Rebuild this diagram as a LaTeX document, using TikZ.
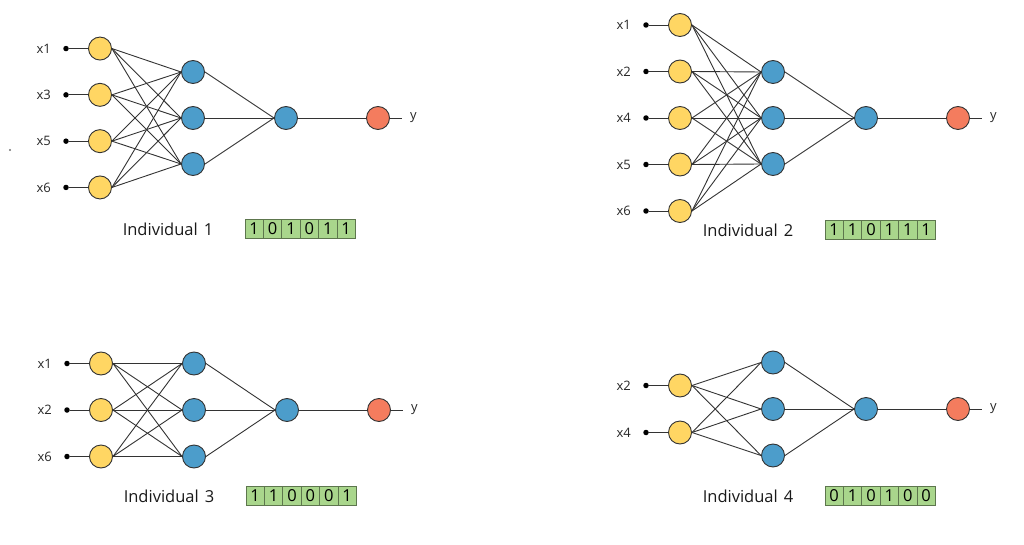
\documentclass[tikz,border=0pt]{standalone}
\usepackage{fontspec}
\setmainfont{Open Sans}
\usetikzlibrary{positioning}

\definecolor{inyellow}{HTML}{FFD663}
\definecolor{hidblue}{HTML}{4C9DCB}
\definecolor{outred}{HTML}{F47C5E}
\definecolor{bitgreen}{HTML}{A9D68C}
\definecolor{wiregray}{HTML}{333333}

\tikzset{
	neuron/.style={circle, draw=wiregray, line width=0.9pt, minimum size=23pt, inner sep=0pt},
	inneuron/.style={neuron, fill=inyellow},
	hidneuron/.style={neuron, fill=hidblue},
	outneuron/.style={neuron, fill=outred},
	pindot/.style={circle, fill=black, minimum size=5.5pt, inner sep=0pt},
	wire/.style={draw=wiregray, line width=0.9pt},
	xlab/.style={font=\fontsize{13}{15}\selectfont, text=black!85, inner sep=0pt},
	netname/.style={font=\fontsize{16.5}{19}\selectfont, text=black!90, inner sep=0pt},
	bit/.style={draw=bitgreen!55!black, line width=0.7pt, fill=bitgreen, minimum width=18.4pt, minimum height=19pt, inner sep=0pt, font=\fontsize{16.5}{18}\selectfont}
}

\begin{document}
\begin{tikzpicture}[x=1pt, y=-1pt]
			\useasboundingbox (0,0) rectangle (1024,545);
			\fill[black!55] (10,150) circle (1.1);
			% Individual 1
			\begin{scope}[shift={(0,118)}]
				\foreach \lab [count=\i] in {x1,x3,x5,x6} {
					\node[inneuron] (ain\i) at (100,{(\i-2.5)*46.3}) {};
					\node[pindot] (adot\i) at (66,{(\i-2.5)*46.3}) {};
					\node[xlab, anchor=east] (alab\i) at (51,{(\i-2.5)*46.3}) {\lab};
					\draw[wire] (adot\i) -- (ain\i);
				}
				\foreach \j in {1,2,3}
					\node[hidneuron] (ahid\j) at (193,{(\j-2)*46}) {};
				\node[hidneuron] (aout) at (286,0) {};
				\node[outneuron] (ay) at (378,0) {};
				\coordinate (aend) at (402,0);
				\node[xlab, anchor=west] (aylab) at (410,0) {y};
				\foreach \i in {1,...,4}
					\foreach \j in {1,2,3}
						\draw[wire] (ain\i.east) -- (ahid\j.west);
				\foreach \j in {1,2,3}
					\draw[wire] (ahid\j.east) -- (aout.west);
				\draw[wire] (aout) -- (ay) -- (aend);
				\node[netname] (aname) at (168,111) {Individual\hspace{6pt}1};
				\foreach \b [count=\k] in {1,0,1,0,1,1}
					\node[bit] (abit\k) at ({245+18.4*(\k-0.5)},111) {\b};
			\end{scope}
			% Individual 2
			\begin{scope}[shift={(580,118)}]
				\foreach \lab [count=\i] in {x1,x2,x4,x5,x6} {
					\node[inneuron] (bin\i) at (100,{(\i-3)*46.5}) {};
					\node[pindot] (bdot\i) at (66,{(\i-3)*46.5}) {};
					\node[xlab, anchor=east] (blab\i) at (51,{(\i-3)*46.5}) {\lab};
					\draw[wire] (bdot\i) -- (bin\i);
				}
				\foreach \j in {1,2,3}
					\node[hidneuron] (bhid\j) at (193,{(\j-2)*46}) {};
				\node[hidneuron] (bout) at (286,0) {};
				\node[outneuron] (by) at (378,0) {};
				\coordinate (bend) at (402,0);
				\node[xlab, anchor=west] (bylab) at (410,0) {y};
				\foreach \i in {1,...,5}
					\foreach \j in {1,2,3}
						\draw[wire] (bin\i.east) -- (bhid\j.west);
				\foreach \j in {1,2,3}
					\draw[wire] (bhid\j.east) -- (bout.west);
				\draw[wire] (bout) -- (by) -- (bend);
				\node[netname] (bname) at (168,112) {Individual\hspace{6pt}2};
				\foreach \b [count=\k] in {1,1,0,1,1,1}
					\node[bit] (bbit\k) at ({245+18.4*(\k-0.5)},112) {\b};
			\end{scope}
			% Individual 3
			\begin{scope}[shift={(1,410)}]
				\foreach \lab [count=\i] in {x1,x2,x6} {
					\node[inneuron] (cin\i) at (100,{(\i-2)*46.5}) {};
					\node[pindot] (cdot\i) at (66,{(\i-2)*46.5}) {};
					\node[xlab, anchor=east] (clab\i) at (51,{(\i-2)*46.5}) {\lab};
					\draw[wire] (cdot\i) -- (cin\i);
				}
				\foreach \j in {1,2,3}
					\node[hidneuron] (chid\j) at (193,{(\j-2)*46.5}) {};
				\node[hidneuron] (cout) at (286,0) {};
				\node[outneuron] (cy) at (378,0) {};
				\coordinate (cend) at (402,0);
				\node[xlab, anchor=west] (cylab) at (410,0) {y};
				\foreach \i in {1,2,3}
					\foreach \j in {1,2,3}
						\draw[wire] (cin\i.east) -- (chid\j.west);
				\foreach \j in {1,2,3}
					\draw[wire] (chid\j.east) -- (cout.west);
				\draw[wire] (cout) -- (cy) -- (cend);
				\node[netname] (cname) at (168,86) {Individual\hspace{6pt}3};
				\foreach \b [count=\k] in {1,1,0,0,0,1}
					\node[bit] (cbit\k) at ({245+18.4*(\k-0.5)},86) {\b};
			\end{scope}
			% Individual 4
			\begin{scope}[shift={(580,409)}]
				\foreach \lab [count=\i] in {x2,x4} {
					\node[inneuron] (din\i) at (100,{(\i-1.5)*47}) {};
					\node[pindot] (ddot\i) at (66,{(\i-1.5)*47}) {};
					\node[xlab, anchor=east] (dlab\i) at (51,{(\i-1.5)*47}) {\lab};
					\draw[wire] (ddot\i) -- (din\i);
				}
				\foreach \j in {1,2,3}
					\node[hidneuron] (dhid\j) at (193,{(\j-2)*46.5}) {};
				\node[hidneuron] (dout) at (286,0) {};
				\node[outneuron] (dy) at (378,0) {};
				\coordinate (dend) at (402,0);
				\node[xlab, anchor=west] (dylab) at (410,0) {y};
				\foreach \i in {1,2}
					\foreach \j in {1,2,3}
						\draw[wire] (din\i.east) -- (dhid\j.west);
				\foreach \j in {1,2,3}
					\draw[wire] (dhid\j.east) -- (dout.west);
				\draw[wire] (dout) -- (dy) -- (dend);
				\node[netname] (dname) at (168,87) {Individual\hspace{6pt}4};
				\foreach \b [count=\k] in {0,1,0,1,0,0}
					\node[bit] (dbit\k) at ({245+18.4*(\k-0.5)},87) {\b};
			\end{scope}
		\end{tikzpicture}
\end{document}
